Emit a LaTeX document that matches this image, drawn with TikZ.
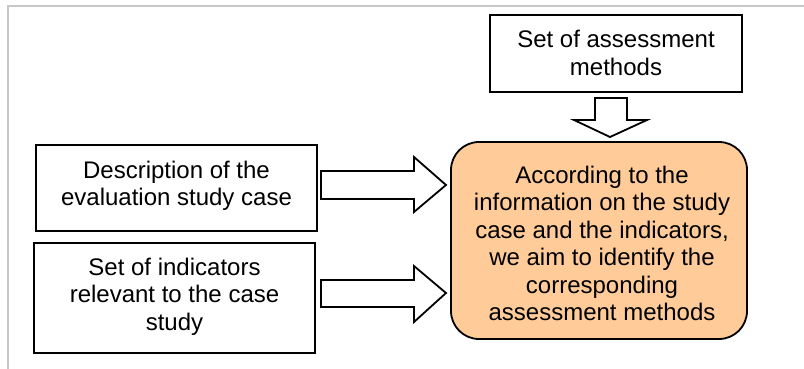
\documentclass[tikz,border=0pt]{standalone}
\usepackage{fontspec}
\setmainfont{Liberation Sans}
\usetikzlibrary{calc}
\definecolor{frame}{HTML}{C8C8C8}
\definecolor{peach}{HTML}{FFCC99}
\begin{document}
\begin{tikzpicture}[x=1pt,y=-1pt,
  every node/.style={font=\fontsize{24}{27.5}\selectfont, align=center, inner sep=0pt},
  plainbox/.style={draw=black, line width=1.8pt, fill=white},
  goalbox/.style={draw=black, line width=1.8pt, fill=peach, rounded corners=28pt},
  textonly/.style={draw=none, fill=none},
  blockarrow/.style={draw=black, line width=1.8pt, fill=white, line join=miter}]
\useasboundingbox (0,0) rectangle (804,369);

% outer frame
\draw[frame, line width=2pt] (8,369) -- (8,6) -- (804,6);

% boxes
\node[plainbox, minimum width=252, minimum height=77] (methods) at (616,53.5) {};
\node[textonly] (methodstext) at (616,53) {Set of assessment\\methods};
\node[plainbox, minimum width=281, minimum height=86] (desc) at (176.5,188) {};
\node[textonly] (desctext) at (176.5,186) {Description of the\\evaluation study case};
\node[plainbox, minimum width=281, minimum height=110] (ind) at (174.5,298) {};
\node[textonly] (indtext) at (174.5,296.5) {Set of indicators\\relevant to the case\\study};
\node[goalbox, minimum width=296, minimum height=197] (goal) at (599,240.5) {};
\node[textonly] (goaltext) at (602,243.5)
  {According to the\\information on the study\\case and the indicators,\\we aim to identify the\\corresponding\\assessment methods};

% block arrows
\draw[blockarrow] (595,98) -- (627,98) -- (627,120) -- (647,120) -- (610,137)
  -- (574,120) -- (595,120) -- cycle;
\draw[blockarrow] (321,171) -- (414,171) -- (414,157) -- (446,185) -- (414,212)
  -- (414,199) -- (321,199) -- cycle;
\draw[blockarrow] (321,280) -- (414,280) -- (414,266) -- (446,293) -- (414,322)
  -- (414,307) -- (321,307) -- cycle;
\end{tikzpicture}
\end{document}
